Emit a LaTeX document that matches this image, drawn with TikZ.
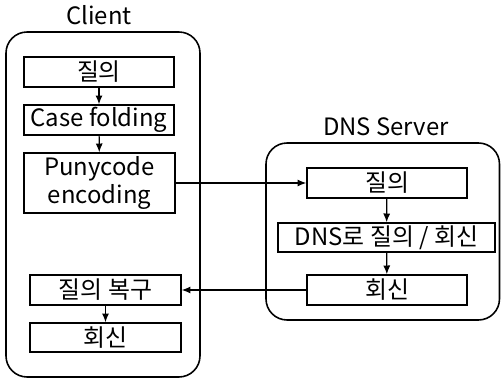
\documentclass[tikz,border=0pt]{standalone}
\usepackage{fontspec}
\setmainfont{Noto Sans CJK KR}
\usetikzlibrary{arrows.meta}
\begin{document}
\begin{tikzpicture}[x=0.02cm,y=-0.02cm]
	\tikzstyle{every node}=[font=\fontsize{13.6}{15.5}\selectfont]
	\tikzstyle{stepbox}=[draw, line width=0.8pt, inner sep=0pt, minimum height=0.6cm, align=center]
	\tikzstyle{link}=[line width=0.7pt, -{Latex[length=5pt,width=4pt]}]
	\useasboundingbox (0,0) rectangle (501,381);
	% client side
	\node (client) at (99,15) {Client};
	\draw [line width=0.9pt, rounded corners=12pt] (6,32) rectangle (200,377);
	\node [stepbox, minimum width=3cm] (cq) at (99,72) {질의};
	\node [stepbox, minimum width=3cm] (cf) at (99,120) {Case folding};
	\node [stepbox, minimum width=3.02cm, minimum height=1.2cm] (pe) at (99.5,183) {Punycode\\encoding};
	\node [stepbox, minimum width=3.02cm] (qr) at (105.5,290) {질의 복구};
	\node [stepbox, minimum width=3.02cm, minimum height=0.58cm] (cr) at (105.5,337.5) {회신};
	% server side
	\node (server) at (386,127) {DNS Server};
	\draw [line width=0.9pt, rounded corners=12pt] (266,143) rectangle (499.5,320);
	\node [stepbox, minimum width=3.2cm] (sq) at (387,183) {질의};
	\node [stepbox, minimum width=4.34cm, minimum height=0.58cm] (dq) at (386.5,237.5) {DNS로 질의 / 회신};
	\node [stepbox, minimum width=3.2cm] (sr) at (387,290) {회신};
	% arrows
	\draw [link] (cq) -- (cf);
	\draw [link] (cf) -- (pe);
	\draw [link] (qr) -- (cr);
	\draw [link] (pe.east) -- (sq.west);
	\draw [link] (sq) -- (dq);
	\draw [link] (dq) -- (sr);
	\draw [link] (sr.west) -- (qr.east);
\end{tikzpicture}
\end{document}
